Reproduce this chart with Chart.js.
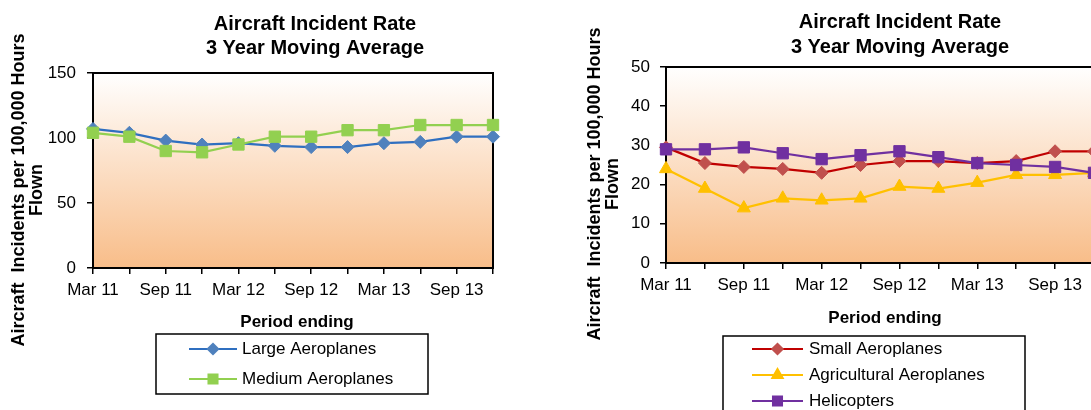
<!DOCTYPE html>
<html>
<head>
<meta charset="utf-8">
<script src="https://cdn.jsdelivr.net/npm/chart.js@4.4.1/dist/chart.umd.min.js"></script>
<style>
  html, body { margin: 0; padding: 0; background: #fff; overflow: hidden; width: 1091px; height: 410px; }
  canvas { position: absolute; top: 0; }
  #leftChart { left: 0; }
  #rightChart { left: 560px; }
</style>
</head>
<body>
<canvas id="leftChart" width="560" height="410"></canvas>
<canvas id="rightChart" width="545" height="410"></canvas>
<script>
// Quarter-end periods of the 3 year moving average
const periods = ['Mar 11', 'Jun 11', 'Sep 11', 'Dec 11', 'Mar 12', 'Jun 12',
                 'Sep 12', 'Dec 12', 'Mar 13', 'Jun 13', 'Sep 13', 'Dec 13'];

// Incidents per 100,000 hours flown
const largeAeroplanes        = [107, 104, 98, 95, 96, 94, 93, 93, 96, 97, 101, 101];
const mediumAeroplanes       = [104, 101, 90, 89, 95, 101, 101, 106, 106, 110, 110, 110];
const smallAeroplanes        = [29.5, 25.5, 24.5, 24, 23, 25, 26, 26, 25.5, 26, 28.5, 28.5];
const agriculturalAeroplanes = [24, 19, 14, 16.5, 16, 16.5, 19.5, 19, 20.5, 22.5, 22.5, 23];
const helicopters            = [29, 29, 29.5, 28, 26.5, 27.5, 28.5, 27, 25.5, 25, 24.5, 23];

// Value axis ticks
const largeTicks = [0, 50, 100, 150];
const smallTicks = [0, 10, 20, 30, 40, 50];

const FONT = '"Liberation Sans", Arial, Helvetica, sans-serif';
Chart.defaults.font.family = FONT;
Chart.defaults.color = '#000';

// Background, frame, titles and boxed legend
const chartDecor = {
  id: 'chartDecor',
  beforeDraw(chart) {
    const { ctx, chartArea: a } = chart;
    const g = ctx.createLinearGradient(0, a.top, 0, a.bottom);
    g.addColorStop(0, '#ffffff');
    g.addColorStop(1, '#f8bd89');
    ctx.save();
    ctx.fillStyle = g;
    ctx.fillRect(a.left, a.top, a.right - a.left, a.bottom - a.top);
    ctx.restore();
  },
  beforeDatasetsDraw(chart) {
    const { ctx, chartArea: a } = chart;
    ctx.save();
    ctx.strokeStyle = '#000';
    ctx.lineWidth = 2;
    ctx.strokeRect(a.left, a.top, a.right - a.left, a.bottom - a.top);
    ctx.restore();
  },
  afterDraw(chart, args, o) {
    const ctx = chart.ctx;
    ctx.save();
    ctx.fillStyle = '#000';
    ctx.textAlign = 'center';
    ctx.textBaseline = 'middle';

    // chart title
    ctx.font = 'bold 20px ' + FONT;
    o.title.forEach((t, i) => ctx.fillText(t, o.titleX, o.titleY + i * o.titleGap));

    // value axis title
    ctx.font = 'bold 18px ' + FONT;
    ctx.save();
    ctx.translate(0, o.yTitleY);
    ctx.rotate(-Math.PI / 2);
    o.yTitle.forEach((t, i) => ctx.fillText(t, 0, o.yTitleX[i]));
    ctx.restore();

    // category axis title
    ctx.font = 'bold 17px ' + FONT;
    ctx.fillText(o.xTitle, o.xTitleX, o.xTitleY);

    // legend
    const L = o.legend;
    ctx.strokeStyle = '#000';
    ctx.lineWidth = 1.5;
    ctx.strokeRect(L.x, L.y, L.w, L.h);
    ctx.font = '17px ' + FONT;
    ctx.textAlign = 'left';
    chart.data.datasets.forEach((ds, i) => {
      const y = L.firstY + i * L.gap;
      ctx.strokeStyle = ds.borderColor;
      ctx.lineWidth = 2;
      ctx.beginPath();
      ctx.moveTo(L.lineX1, y);
      ctx.lineTo(L.lineX2, y);
      ctx.stroke();
      ctx.fillStyle = ds.pointBackgroundColor;
      ctx.strokeStyle = ds.pointBorderColor;
      Chart.helpers.drawPoint(ctx, {
        pointStyle: ds.pointStyle, radius: ds.pointRadius * 0.8, rotation: 0, borderWidth: 1
      }, (L.lineX1 + L.lineX2) / 2, y);
      ctx.fillStyle = '#000';
      ctx.fillText(ds.label, L.textX, y);
    });
    ctx.restore();
  }
};

function series(label, data, line, marker, style, radius, order) {
  return {
    label, data, order,
    borderColor: line, borderWidth: 2.25,
    pointStyle: style, pointRadius: radius,
    pointBackgroundColor: marker, pointBorderColor: marker, pointBorderWidth: 1,
    tension: 0, clip: false
  };
}

function buildOptions(cfg) {
  return {
    responsive: false,
    animation: false,
    devicePixelRatio: 1,
    layout: { padding: { left: 0, top: cfg.top, right: cfg.right, bottom: 0 } },
    plugins: { legend: { display: false }, title: { display: false }, tooltip: { enabled: false },
               chartDecor: cfg.decor },
    scales: {
      x: {
        type: 'category',
        offset: false,
        grid: { offset: false, drawOnChartArea: false, drawTicks: true, tickLength: 6, color: '#000', lineWidth: 1.5 },
        border: { display: false },
        ticks: {
          autoSkip: false, maxRotation: 0, padding: 6,
          font: { size: 17 },
          callback(v, i) { return i % 2 === 0 ? this.getLabelForValue(v) : ''; }
        },
        afterFit(s) {
          s.height = cfg.xHeight;
          s.paddingLeft = s.paddingRight = s.paddingTop = s.paddingBottom = 0;
        }
      },
      y: {
        min: cfg.ticks[0], max: cfg.ticks[cfg.ticks.length - 1],
        afterBuildTicks(s) { s.ticks = cfg.ticks.map(v => ({ value: v })); },
        grid: { drawOnChartArea: false, drawTicks: true, tickLength: 6, color: '#000', lineWidth: 1.5 },
        border: { display: false },
        ticks: { padding: cfg.tickPad, font: { size: 17 } },
        afterFit(s) {
          s.width = cfg.yWidth;
          s.paddingLeft = s.paddingRight = s.paddingTop = s.paddingBottom = 0;
        }
      }
    }
  };
}

new Chart(document.getElementById('leftChart'), {
  type: 'line',
  data: {
    labels: periods,
    datasets: [
      series('Large Aeroplanes', largeAeroplanes, '#2f6fc0', '#4f81bd', 'rectRot', 6.5, 2),
      series('Medium Aeroplanes', mediumAeroplanes, '#92d050', '#92d050', 'rect', 8, 1)
    ]
  },
  options: buildOptions({
    top: 73, right: 67, xHeight: 142, yWidth: 93, tickPad: 11, ticks: largeTicks,
    decor: {
      title: ['Aircraft Incident Rate', '3 Year Moving Average'], titleX: 315, titleY: 24, titleGap: 24,
      yTitle: ['Aircraft  Incidents per 100,000 Hours', 'Flown'], yTitleX: [19, 37], yTitleY: 190,
      xTitle: 'Period ending', xTitleX: 297, xTitleY: 322,
      legend: { x: 156, y: 334, w: 272, h: 60, firstY: 349, gap: 30, lineX1: 189, lineX2: 237, textX: 242 }
    }
  }),
  plugins: [chartDecor]
});

new Chart(document.getElementById('rightChart'), {
  type: 'line',
  data: {
    labels: periods,
    datasets: [
      series('Small Aeroplanes', smallAeroplanes, '#c00000', '#c0504d', 'rectRot', 6.5, 3),
      series('Agricultural Aeroplanes', agriculturalAeroplanes, '#ffc000', '#ffc000', 'triangle', 7.5, 2),
      series('Helicopters', helicopters, '#7030a0', '#7030a0', 'rect', 8, 1)
    ]
  },
  options: buildOptions({
    top: 67, right: 11, xHeight: 147, yWidth: 106, tickPad: 10, ticks: smallTicks,
    decor: {
      title: ['Aircraft Incident Rate', '3 Year Moving Average'], titleX: 340, titleY: 22, titleGap: 25,
      yTitle: ['Aircraft  Incidents per 100,000 Hours', 'Flown'], yTitleX: [35, 53], yTitleY: 184,
      xTitle: 'Period ending', xTitleX: 325, xTitleY: 318,
      legend: { x: 163, y: 336, w: 302, h: 100, firstY: 349, gap: 26, lineX1: 192, lineX2: 243, textX: 249 }
    }
  }),
  plugins: [chartDecor]
});
</script>
</body>
</html>
